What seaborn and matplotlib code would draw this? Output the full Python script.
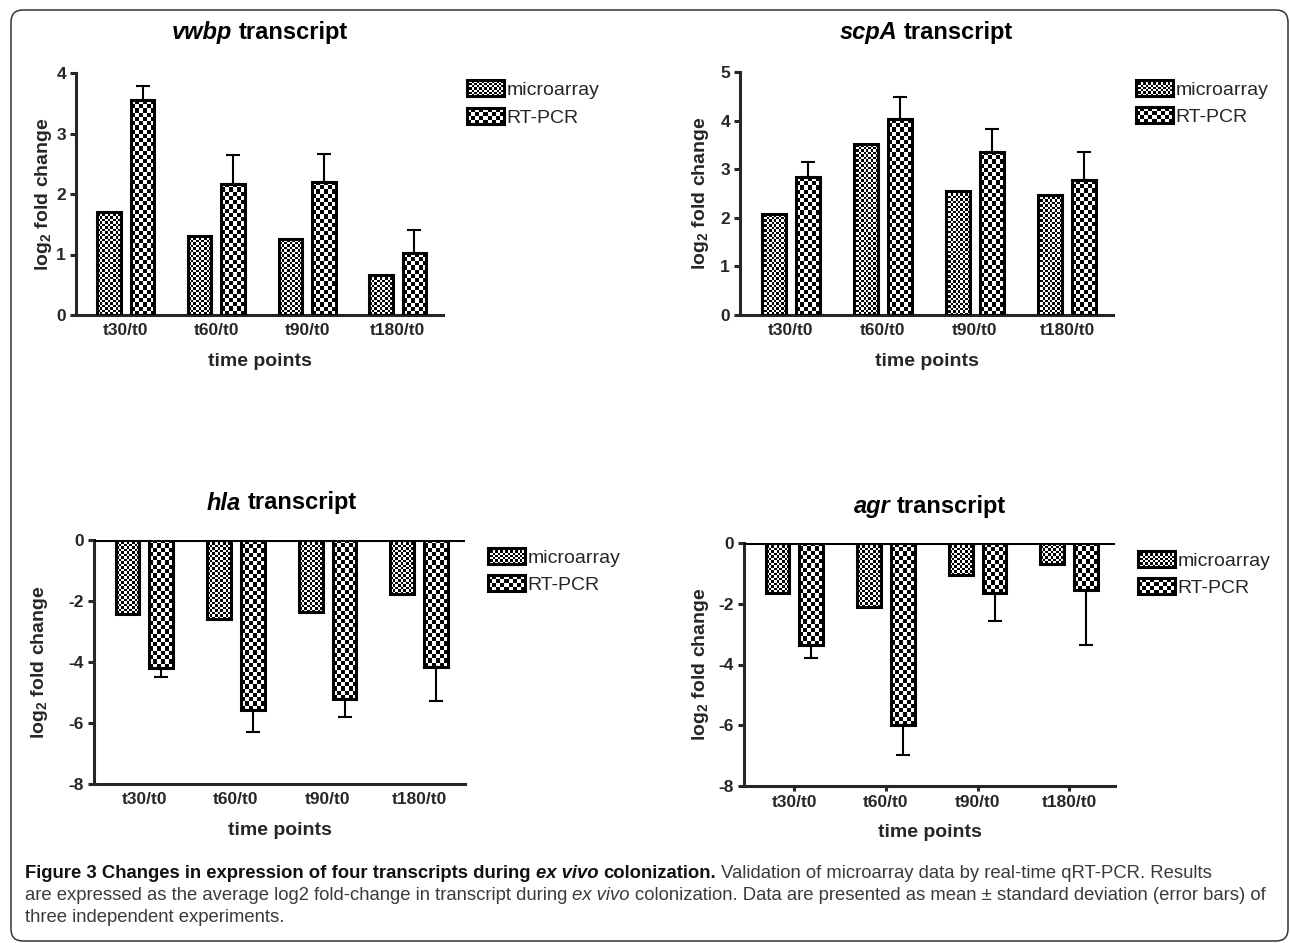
import numpy as np
import pandas as pd
import seaborn as sns
import matplotlib.pyplot as plt
import matplotlib.transforms as mtransforms
from matplotlib.patches import Rectangle, Patch, FancyBboxPatch
from matplotlib.collections import PatchCollection
from matplotlib.legend_handler import HandlerBase


time_points = ["t30/t0", "t60/t0", "t90/t0", "t180/t0"]
methods = ["microarray", "RT-PCR"]

vwbp_micro = [1.71, 1.31, 1.25, 0.66]
vwbp_rt = [3.55, 2.17, 2.20, 1.02]
vwbp_rt_sd = [0.24, 0.47, 0.46, 0.38]

scpa_micro = [2.07, 3.51, 2.55, 2.47]
scpa_rt = [2.83, 4.03, 3.36, 2.77]
scpa_rt_sd = [0.32, 0.45, 0.47, 0.58]

hla_micro = [-2.43, -2.59, -2.35, -1.77]
hla_rt = [-4.20, -5.57, -5.22, -4.18]
hla_rt_sd = [0.28, 0.71, 0.59, 1.11]

agr_micro = [-1.63, -2.10, -1.04, -0.68]
agr_rt = [-3.36, -5.99, -1.63, -1.56]
agr_rt_sd = [0.44, 0.99, 0.95, 1.80]

W, H = 1290, 943

sns.set_style("ticks")
plt.rcParams["font.family"] = ["Liberation Sans", "DejaVu Sans"]
plt.rcParams["font.weight"] = "bold"
plt.rcParams["axes.labelweight"] = "bold"
plt.rcParams["axes.unicode_minus"] = False
plt.rcParams["mathtext.fontset"] = "custom"
plt.rcParams["mathtext.rm"] = "Liberation Sans:bold"
plt.rcParams["mathtext.default"] = "rm"

fig = plt.figure(figsize=(W / 100, H / 100), dpi=100)
renderer = fig.canvas.get_renderer()
# pixel coords measured from the top-left corner
pix = mtransforms.Affine2D().scale(1 / W, -1 / H).translate(0, 1) + fig.transFigure


class CheckerHandler(HandlerBase):
    def __init__(self, ncols, nrows):
        super().__init__()
        self.ncols, self.nrows = ncols, nrows

    def create_artists(self, legend, orig_handle, xdescent, ydescent,
                       width, height, fontsize, trans):
        x0, y0 = -xdescent, -ydescent
        cw, ch = width / self.ncols, height / self.nrows
        sq = [Rectangle((x0 + i * cw, y0 + j * ch), cw, ch)
              for i in range(self.ncols) for j in range(self.nrows) if (i + j) % 2 == 0]
        bg = Rectangle((x0, y0), width, height, facecolor="white", edgecolor="none", transform=trans)
        pc = PatchCollection(sq, facecolor="black", edgecolor="none", transform=trans)
        frame = Rectangle((x0, y0), width, height, facecolor="none", edgecolor="black",
                          linewidth=2.2, transform=trans)
        return [bg, pc, frame]


def checker_fill(ax, container, cell_px, xr, yr):
    sx = ax.bbox.width / (xr[1] - xr[0])
    sy = ax.bbox.height / (yr[1] - yr[0])
    for p in container.patches:
        x, y, w, h = p.get_x(), p.get_y(), p.get_width(), p.get_height()
        nx = max(1, int(round(abs(w) * sx / cell_px)))
        ny = max(1, int(round(abs(h) * sy / cell_px)))
        board = np.indices((ny, nx)).sum(axis=0) % 2
        y0, y1 = sorted([y, y + h])
        im = ax.imshow(board, cmap="gray_r", vmin=0, vmax=1, extent=(x, x + w, y0, y1),
                       aspect="auto", interpolation="nearest", zorder=2)
        im.set_clip_path(p)
        p.set_facecolor("none")
        p.set_zorder(3)


def rich_line(x, y, pieces, size, ha="left"):
    texts, gaps = [], []
    for s, weight, style, color in pieces:
        t = fig.text(0, 0, s, transform=pix, fontsize=size, fontweight=weight,
                     fontstyle=style, color=color, ha="left", va="center")
        a = fig.text(0, 0, "x x", fontsize=size, fontweight=weight, fontstyle=style)
        b = fig.text(0, 0, "xx", fontsize=size, fontweight=weight, fontstyle=style)
        gaps.append(a.get_window_extent(renderer).width - b.get_window_extent(renderer).width)
        a.remove()
        b.remove()
        texts.append(t)
    widths = [t.get_window_extent(renderer).width for t in texts]
    total = sum(widths) + sum(gaps[:-1])
    cx = x - total / 2 if ha == "center" else x
    for t, w, g in zip(texts, widths, gaps):
        t.set_position((cx, y))
        cx += w + g
    return texts, total


panels = [
    ("vwbp", vwbp_micro, vwbp_rt, vwbp_rt_sd, (76, 443, 73, 315), (0, 4), 1, (260, 33), (467, 103.5), 0),
    ("scpA", scpa_micro, scpa_rt, scpa_rt_sd, (740, 1113, 72, 315), (0, 5), 1, (926, 33), (1136, 103), 0),
    ("hla", hla_micro, hla_rt, hla_rt_sd, (94, 465, 540, 784), (-8, 0), 2, (282, 503), (488, 571), 0),
    ("agr", agr_micro, agr_rt, agr_rt_sd, (744, 1115, 543, 786), (-8, 0), 2, (930, 506), (1138, 574), 3.6),
]

xr = (-0.55, 3.5)

for gene, micro, rt, rt_sd, box, yr, ystep, tpos, lpos, xtick_len in panels:
    left, right, top, bottom = box
    ax = fig.add_axes([left / W, 1 - bottom / H, (right - left) / W, (bottom - top) / H])
    df = pd.DataFrame({
        "time": time_points * 2,
        "method": [methods[0]] * 4 + [methods[1]] * 4,
        "value": list(micro) + list(rt),
    })
    sns.barplot(data=df, x="time", y="value", hue="method", order=time_points,
                hue_order=methods, palette=["white", "white"], saturation=1,
                edgecolor="black", linewidth=2.2, width=0.74, gap=0.3,
                errorbar=None, legend=False, ax=ax)

    checker_fill(ax, ax.containers[0], 2.5, xr, yr)
    checker_fill(ax, ax.containers[1], 4.2, xr, yr)

    xs = [p.get_x() + p.get_width() / 2 for p in ax.containers[1].patches]
    sd = np.array(rt_sd)
    if yr[0] < 0:
        yerr = [sd, np.zeros_like(sd)]
        ax.axhline(0, color="black", linewidth=2.2, zorder=4)
    else:
        yerr = [np.zeros_like(sd), sd]
    ax.errorbar(xs, rt, yerr=yerr, fmt="none", ecolor="black", elinewidth=1.5,
                capsize=4.7, capthick=1.5, zorder=4)

    ax.set_xlim(*xr)
    ax.set_ylim(*yr)
    ax.set_yticks(np.arange(yr[0], yr[1] + 0.01, ystep))
    sns.despine(ax=ax)
    for s in ["left", "bottom"]:
        ax.spines[s].set_linewidth(2.2)
    ax.tick_params(axis="y", length=4.3, width=2.2, pad=2.9, labelsize=12.5)
    ax.tick_params(axis="x", length=xtick_len, width=2.2, pad=5.8 - xtick_len * 0.9, labelsize=12.5)

    ax.set_xlabel("time points", fontsize=14, fontweight="bold")
    ax.set_ylabel("log$_2$ fold change", fontsize=14, fontweight="bold")
    ax.xaxis.set_label_coords(0.5, -38 / (bottom - top))
    ylab_px = {"vwbp": 54, "scpA": 711, "hla": 50, "agr": 711}[gene]
    ax.yaxis.set_label_coords((ylab_px - left) / (right - left), 0.5)

    rich_line(tpos[0], tpos[1], [(gene, "bold", "italic", "black"),
                                 ("transcript", "bold", "normal", "black")], 17, ha="center")

    h1, h2 = Patch(), Patch()
    ax.legend([h1, h2], methods,
              handler_map={h1: CheckerHandler(15, 7), h2: CheckerHandler(9, 4)},
              loc="center left", bbox_to_anchor=(lpos[0] / W, 1 - lpos[1] / H),
              bbox_transform=fig.transFigure, frameon=False, borderpad=0,
              borderaxespad=0, handlelength=1.9, handleheight=0.88,
              handletextpad=0.15, labelspacing=0.45,
              prop={"weight": "normal", "size": 14})

# caption
plt.rcParams["font.family"] = ["Liberation Sans", "DejaVu Sans"]
dark, grey = "#111111", "#3a3a3a"
line1 = [("Figure 3 Changes in expression of four transcripts during", "bold", "normal", dark),
         ("ex vivo", "bold", "italic", dark),
         ("colonization.", "bold", "normal", dark),
         ("Validation of microarray data by real-time qRT-PCR. Results", "normal", "normal", grey)]
line2 = [("are expressed as the average log2 fold-change in transcript during", "normal", "normal", grey),
         ("ex vivo", "normal", "italic", grey),
         ("colonization. Data are presented as mean \u00b1 standard deviation (error bars) of", "normal", "normal", grey)]
line3 = [("three independent experiments.", "normal", "normal", grey)]

scale = 1e9
for line, target in [(line1, 1233), (line2, 1253)]:
    probe, tot = rich_line(25, 873, line, 12)
    for t in probe:
        t.remove()
    scale = min(scale, target / tot)
cap_size = 12 * scale
rich_line(25, 873, line1, cap_size)
rich_line(25, 896, line2, cap_size)
rich_line(25, 918, line3, cap_size)

border = FancyBboxPatch((11, 10), 1277, 931, boxstyle="round,pad=0,rounding_size=12",
                        transform=pix, facecolor="none", edgecolor="#333333", linewidth=1.1)
fig.add_artist(border)

fig.savefig("out.png", dpi=100)
